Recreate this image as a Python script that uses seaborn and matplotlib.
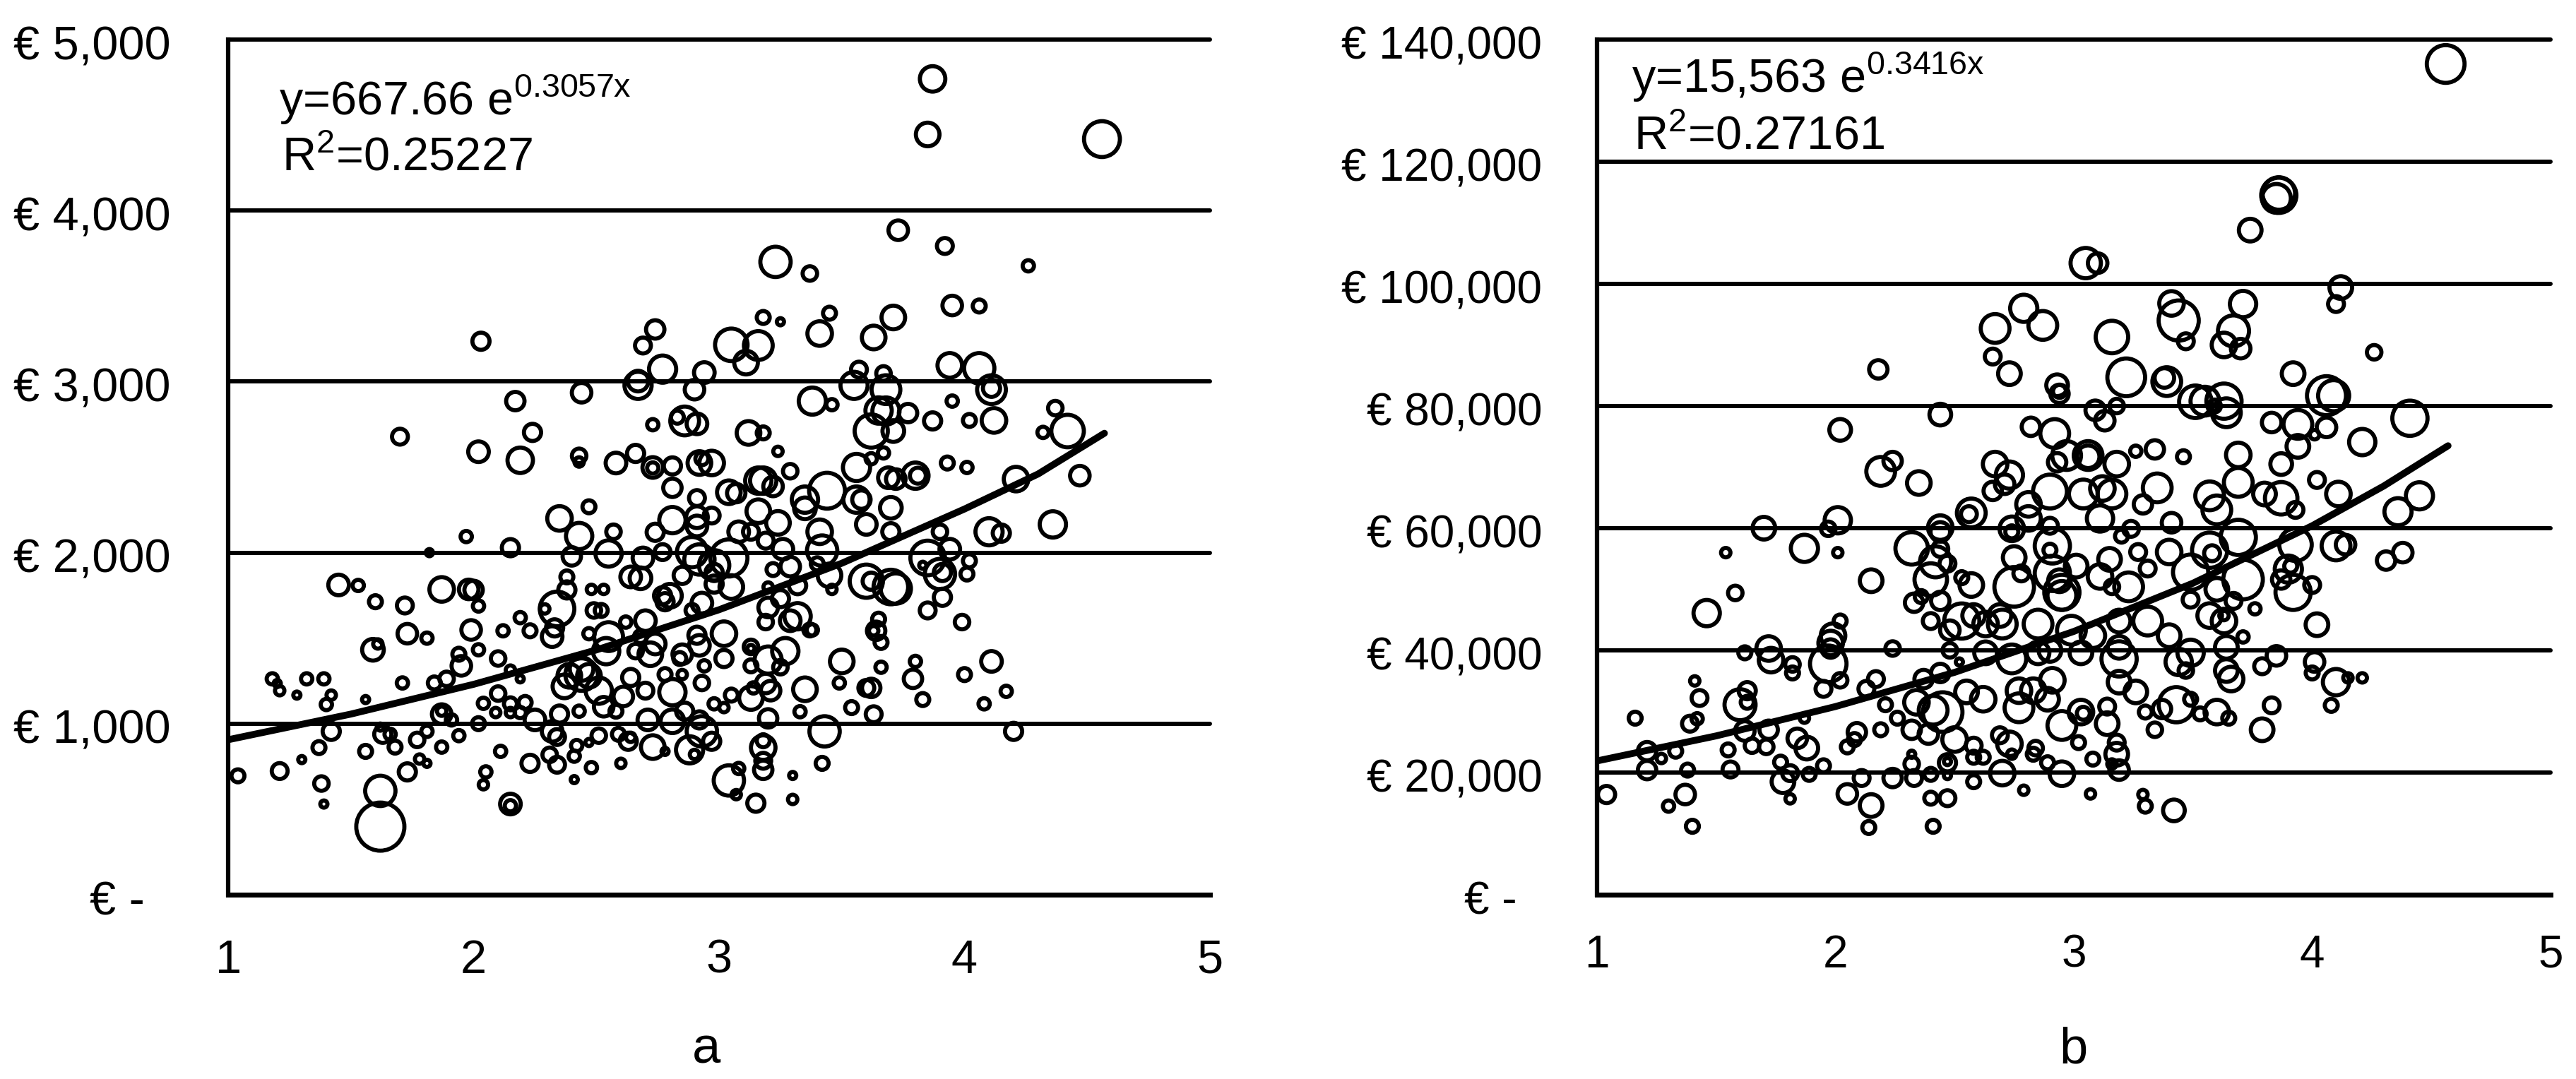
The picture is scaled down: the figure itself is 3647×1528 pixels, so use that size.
import numpy as np
import pandas as pd
import matplotlib
matplotlib.use("Agg")
import matplotlib.pyplot as plt
from matplotlib.transforms import ScaledTranslation
import seaborn as sns

# panel a
x_a = [3.87,3.85,4.56,3.73,3.92,4.26,3.23,3.37,3.95,4.06,
       3.45,3.18,3.25,2.74,2.03,2.69,3.71,3.41,3.63,3.05,
       3.16,3.11,2.77,2.94,2.67,2.67,2.90,3.94,4.06,3.57,
       3.55,3.67,3.68,4.11,4.11,3.38,3.46,3.95,4.37,2.44,
       2.17,2.86,2.83,2.91,2.73,3.65,3.68,3.77,3.87,4.02,
       4.12,4.42,4.32,3.12,3.18,3.62,3.71,1.70,2.24,2.02,
       2.19,2.43,2.43,2.66,2.58,2.73,2.73,2.81,2.92,2.97,
       2.93,2.81,3.24,3.29,3.56,3.44,3.62,3.67,3.69,3.72,
       3.80,3.81,3.93,4.01,4.21,4.47,3.16,3.18,3.22,3.04,
       3.07,2.91,3.35,3.35,3.56,3.58,3.70,2.35,2.47,3.16,
       3.60,2.81,2.91,2.97,2.91,2.74,3.24,3.08,3.13,4.10,
       4.15,4.36,1.97,2.43,2.57,2.15,1.82,2.40,2.55,2.69,
       2.77,2.89,3.04,3.19,3.26,3.41,3.42,3.70,3.90,3.85,
       3.94,4.02,4.01,3.29,3.22,3.40,2.92,2.98,2.98,2.64,
       2.68,2.38,3.45,3.60,3.72,3.70,3.62,3.90,3.91,3.83,
       1.45,1.53,1.60,1.72,1.87,1.98,2.00,2.02,1.73,1.81,
       1.59,1.61,1.99,1.94,2.02,1.95,2.10,2.19,2.12,2.23,
       2.34,2.29,2.38,2.48,2.53,2.49,2.52,2.32,2.33,2.47,
       2.55,2.54,2.62,2.70,2.68,2.74,2.66,2.72,2.77,2.78,
       2.80,2.85,2.98,3.05,2.93,2.89,3.20,3.29,3.32,3.19,
       3.20,3.25,3.32,3.85,3.91,3.99,3.46,3.37,3.38,3.65,
       3.64,3.66,3.63,3.02,2.91,2.92,3.13,3.13,3.27,3.20,
       3.02,2.94,2.85,2.84,3.13,3.25,3.50,3.66,3.80,3.79,
       4.11,4.00,4.17,4.08,3.83,3.62,3.60,3.49,3.35,3.33,
       3.20,3.54,3.63,3.19,3.21,3.13,3.05,3.14,2.93,2.78,
       2.85,2.81,2.64,2.70,2.61,2.98,3.02,2.44,2.39,2.47,
       2.44,2.37,2.51,2.15,2.19,1.71,1.84,1.89,1.18,1.20,
       1.21,1.28,1.32,1.39,1.42,1.40,1.56,2.04,2.10,2.09,
       2.15,2.15,2.21,2.19,1.87,1.87,1.91,2.02,2.25,2.35,
       2.43,2.53,2.58,2.71,2.81,2.86,2.92,1.42,1.63,1.66,
       1.62,1.81,1.77,1.68,1.94,1.87,1.37,1.56,1.30,1.21,
       1.04,1.38,1.39,1.62,1.62,1.73,1.78,1.81,2.11,2.05,
       2.04,2.15,2.15,2.23,2.31,2.34,2.41,2.48,2.41,2.60,
       2.32,2.34,2.42,2.51,2.47,2.59,2.63,2.64,2.73,2.78,
       2.88,2.90,2.93,2.97,3.04,3.08,3.07,3.18,3.18,3.18,
       3.18,3.43,3.42,3.30,3.30,3.15,4.20]
y_a = [4770,4445,4418,3885,3793,3677,3700,3632,3445,3442,
       3400,3375,3350,3305,3236,3211,3375,3281,3258,3215,
       3211,3111,3073,3053,3003,2978,2953,3095,3078,3070,
       2978,3048,2953,2961,2953,2886,2865,2886,2845,2935,
       2886,2770,2792,2753,2748,2831,2828,2816,2770,2773,
       2773,2711,2703,2700,2700,2711,2711,2678,2703,2590,
       2540,2566,2530,2580,2524,2498,2495,2507,2524,2524,
       2549,2379,2592,2476,2498,2362,2549,2583,2438,2430,
       2450,2450,2524,2498,2430,2450,2421,2421,2387,2353,
       2348,2319,2310,2259,2310,2310,2262,2200,2268,2242,
       2165,2190,2207,2217,2156,2119,2174,2122,2122,2122,
       2114,2165,2094,2097,2122,2029,2000,1978,1995,1969,
       2003,2003,1969,2070,2020,2122,2012,2122,2122,1969,
       2020,1952,1875,1918,1901,1935,1960,1926,1884,1858,
       1850,1858,1867,1833,1790,1799,1833,1875,1884,1926,
       1811,1808,1713,1691,1785,1785,1782,1688,1526,1500,
       1432,1466,1548,1406,1432,1338,1381,1620,1543,1543,
       1671,1671,1782,1785,1785,1662,1662,1509,1560,1526,
       1509,1424,1594,1602,1509,1466,1424,1406,1748,1713,
       1748,1867,1816,1799,1705,1662,1679,1602,1628,1594,
       1799,1731,1807,1662,1739,1594,1785,1548,1548,1611,
       1543,1475,1543,1526,1517,1458,1449,1440,1424,1372,
       1381,1338,1406,1381,1338,1330,1364,1330,1364,1262,
       1364,1287,1189,1116,1141,1209,1209,1238,1201,1070,
       1031,1094,1055,1235,1193,1150,1167,1209,1238,1287,
       1287,1184,1270,1193,1159,1116,1094,1287,1280,1280,
       1320,1218,1193,1313,1262,1238,1238,1262,1262,1235,
       1193,1167,1262,1262,1167,1112,1141,1119,1176,1065,
       1116,1065,1124,1065,1056,1073,1022,1000,1022,1056,
       1073,1099,1073,1022,1014,1073,1022,955,938,938,
       980,955,905,863,930,863,860,838,790,723,
       695,650,530,607,398,718,793,768,838,718,
       643,530,520,768,818,760,810,743,673,768,
       955,922,872,930,890,938,897,920,863,838,
       847,820,955,897,668,738,585,730,783,860,
       900,955,768,697,557,535,955]
bubble_a = [16,14,30,10,7,4,22,6,10,5,
            5,5,2,9,8,7,14,15,14,25,
            20,14,18,11,11,18,10,15,22,7,
            18,6,20,8,20,18,4,4,6,10,
            9,20,5,11,4,17,18,9,8,5,
            15,25,4,14,5,26,12,7,8,11,
            16,6,3,8,11,11,4,8,14,15,
            5,9,3,6,18,30,4,4,11,10,
            17,7,5,4,15,10,17,17,10,14,
            9,7,17,12,17,9,12,15,5,14,
            11,17,12,7,11,8,14,11,7,18,
            8,17,4,17,6,8,2,9,17,11,
            7,22,32,7,11,15,22,8,6,28,
            11,5,5,10,5,5,22,22,8,11,
            12,5,14,26,22,28,8,22,8,2,
            11,4,5,7,15,10,9,4,10,4,
            12,3,10,5,4,10,6,4,4,5,
            28,3,8,3,3,6,5,11,8,4,
            20,17,4,11,5,11,6,14,8,8,
            14,8,8,14,11,5,10,11,17,6,
            3,8,8,7,8,6,3,5,4,5,
            9,5,3,15,8,11,6,2,17,18,
            8,4,10,5,5,6,14,4,4,9,
            11,5,4,4,5,9,7,4,14,4,
            9,5,7,10,10,14,5,4,6,5,
            3,17,8,7,10,4,3,25,14,14,
            14,14,17,3,2,4,5,6,4,2,
            3,2,4,4,3,4,2,4,6,3,
            5,3,5,4,10,3,4,5,11,8,
            4,10,5,11,14,8,8,8,8,4,
            2,4,6,5,4,4,5,5,2,7,
            5,6,2,22,52,8,3,2,4,4,
            3,11,4,8,6,7,4,4,2,3,
            11,7,4,6,2,5,8,3,14,2,
            18,3,22,8,22,4,3,9,7,15,
            5,22,5,2,3,8,8]
trend_x_a = [1.0, 1.5, 2.0, 2.5, 3.0, 3.5, 4.0, 4.3, 4.57]
trend_y_a = [906, 1056, 1230, 1431, 1666, 1938, 2255, 2460, 2698]
yticks_a = [0, 1000, 2000, 3000, 4000, 5000]
ylabels_a = ["€ -\u00a0\u00a0", "€ 1,000", "€ 2,000", "€ 3,000", "€ 4,000", "€ 5,000"]

# panel b
x_b = [4.56,3.86,3.86,3.85,3.74,3.05,3.10,4.12,4.10,2.79,
       2.67,2.87,3.41,3.44,3.47,3.71,3.67,3.63,3.70,4.26,
       3.16,2.66,2.73,2.18,3.22,3.38,3.39,3.92,4.06,4.09,
       2.93,2.94,2.94,3.51,3.55,3.63,3.64,3.59,3.09,3.18,
       3.13,2.44,2.02,2.82,2.92,3.83,3.94,4.06,4.41,4.21,
       3.94,4.01,3.26,3.34,3.46,3.69,3.06,2.97,3.06,2.93,
       3.18,3.87,4.02,2.67,2.19,2.24,2.35,2.73,2.71,2.66,
       2.90,3.04,3.16,3.12,3.35,3.29,2.81,4.11,4.45,4.36,
       3.57,3.69,3.80,3.87,3.93,3.60,2.57,2.56,2.44,2.44,
       2.01,1.97,1.70,3.11,3.41,3.24,2.81,2.74,2.74,2.90,
       1.87,2.01,1.54,2.32,2.44,2.42,2.47,2.91,2.90,2.75,
       3.20,3.27,3.40,3.57,3.58,3.69,3.93,4.10,4.14,4.38,
       4.31,3.15,3.31,3.01,3.90,3.91,3.87,3.92,4.00,2.15,
       1.58,1.46,2.40,2.53,2.57,2.33,2.44,2.36,2.75,2.78,
       2.91,2.95,2.94,2.95,3.11,3.23,3.16,3.49,3.49,3.60,
       3.71,3.67,3.76,3.57,3.63,3.63,4.02,3.71,2.02,1.99,
       1.98,1.98,1.97,2.02,1.95,2.40,2.48,2.53,2.58,2.63,
       2.70,2.69,2.85,2.99,3.08,3.19,3.31,3.40,2.24,1.62,
       1.72,1.73,1.82,1.82,2.48,2.52,2.63,2.74,2.85,2.90,
       3.03,3.19,3.19,3.49,3.44,3.47,3.64,3.64,3.66,3.85,
       3.79,4.01,4.00,4.10,4.15,4.21,4.08,3.83,3.79,1.41,
       1.43,1.16,1.39,1.42,1.60,1.63,1.63,2.17,2.13,2.21,
       2.26,2.37,2.44,2.55,2.62,2.34,2.45,2.41,2.77,2.91,
       2.83,2.89,2.77,3.03,3.04,3.14,3.19,3.26,3.43,3.37,
       3.30,3.49,3.53,3.60,3.65,3.34,3.14,2.95,3.02,1.87,
       1.72,1.62,1.84,1.88,1.65,1.71,1.55,1.33,1.21,1.27,
       2.19,2.09,2.08,2.05,2.32,2.39,2.50,2.58,2.73,2.84,
       2.69,1.21,1.38,1.56,1.77,1.81,1.95,1.89,1.78,2.32,
       2.32,2.47,2.47,2.58,2.62,2.74,2.83,2.89,2.95,2.70,
       2.11,2.24,2.33,2.40,2.47,2.58,3.08,3.18,3.19,3.16,
       3.18,1.04,1.37,1.30,1.81,2.05,2.40,2.47,2.79,3.07,
       3.29,3.30,3.42,2.15,1.40,2.14,2.41]
y_b = [136000,114500,114800,114000,108800,103400,103400,99400,96700,96000,
       92700,93200,96800,94000,90600,96700,92300,90000,89400,88800,
       91300,88100,85300,86000,84700,84600,84000,85300,81700,81700,
       83400,82400,82000,80700,80800,80800,78900,80000,79300,80000,
       77600,78600,76100,76600,75500,77300,77000,76500,78000,74100,
       73400,75300,72600,72900,71700,72000,71900,71900,71700,70800,
       70500,70500,67900,70500,69300,71000,67400,68700,67200,66100,
       66000,65600,65600,66500,66600,63900,63900,65600,65300,62700,
       65300,67500,65600,64900,63000,63000,62500,62300,60100,59400,
       61300,59900,60000,61600,60900,59900,61600,59900,59400,60400,
       56700,56000,56000,56700,56600,54500,54200,57100,56400,55200,
       58700,56100,56100,56400,55900,58500,57300,57100,57300,56000,
       54700,54900,53400,53800,53300,53800,51600,49500,50700,51400,
       49400,46100,51600,51900,50700,47800,48100,48800,50400,52600,
       52600,49500,51400,49000,52100,50400,50400,48300,52800,50000,
       51600,48100,46800,45700,44800,45700,44200,42200,44800,42400,
       41200,40300,37800,35100,33700,44800,43300,44800,45700,44300,
       44300,45700,44300,43300,42400,44800,44800,42400,40300,39600,
       40300,38400,37700,36300,40000,38100,39600,38600,39600,40000,
       39600,38600,40500,39600,38100,36700,40500,36700,35300,39100,
       37400,38100,36300,34800,35500,35500,31000,31000,27000,35000,
       32200,28900,28000,28800,31100,33400,31500,35300,33700,31100,
       28900,35300,36300,33200,32000,31500,29900,30200,33400,35100,
       33400,32000,30600,29900,29700,30800,34800,33200,31100,30400,
       29900,32000,29600,29900,28900,27000,28000,27700,24900,28900,
       27000,26800,25600,24000,24400,24200,23700,23500,23500,22300,
       27000,26600,25400,24200,27000,26300,25400,24400,24700,24000,
       26100,20400,20400,20500,21700,19900,21100,19700,18500,23000,
       21400,21600,21800,22500,22500,23000,23000,21600,19800,19900,
       19100,19100,19100,19700,19500,18500,22200,23000,20400,21400,
       24900,16400,16400,14500,15700,16500,15800,15800,17100,16500,
       16400,14500,13800,14600,11200,11000,11200]
bubble_b = [33,29,25,20,13,22,10,13,7,18,
            20,20,15,37,7,17,23,15,10,6,
            25,7,13,9,33,10,20,13,35,23,
            12,5,9,25,20,29,20,5,10,6,
            10,12,12,9,20,10,20,10,29,17,
            13,3,4,9,5,15,20,20,13,9,
            15,12,7,15,20,9,14,18,10,9,
            27,20,20,15,20,9,15,15,18,18,
            20,20,13,25,7,20,20,7,15,10,
            17,6,13,17,10,7,15,15,5,7,
            18,3,3,25,7,23,7,29,5,13,
            5,7,15,29,7,29,25,20,10,10,
            9,13,7,13,18,5,9,29,7,13,
            6,17,25,5,14,9,9,5,36,7,
            29,29,13,20,15,20,6,7,29,13,
            36,7,4,15,15,3,13,4,5,15,
            15,9,31,6,7,7,10,29,13,15,
            20,13,20,20,15,13,20,13,6,5,
            15,15,6,5,6,2,13,20,13,13,
            13,29,13,17,17,6,13,13,15,10,
            7,10,5,17,3,3,5,7,13,3,
            7,5,7,4,23,8,5,7,7,5,
            5,9,9,13,15,15,36,20,15,15,
            15,13,20,15,5,7,13,13,29,9,
            5,5,5,15,5,6,13,20,5,3,
            9,10,10,13,6,6,5,5,9,3,
            5,9,5,5,9,10,15,7,15,6,
            7,9,5,7,5,7,5,5,13,2,
            6,8,2,5,5,3,5,5,15,15,
            7,9,7,5,2,5,5,13,10,3,
            7,8,10,4,3,10,5,7,3,3,
            3,5,12,13,5,5,5]
trend_x_b = [1.0, 1.5, 2.0, 2.5, 3.0, 3.5, 4.0, 4.3, 4.57]
trend_y_b = [21900, 26000, 30800, 36400, 43100, 51000, 60400, 66900, 73500]
yticks_b = [0, 20000, 40000, 60000, 80000, 100000, 120000, 140000]
ylabels_b = ["€ -\u00a0\u00a0", "€ 20,000", "€ 40,000", "€ 60,000", "€ 80,000",
             "€ 100,000", "€ 120,000", "€ 140,000"]
xticks = [1, 2, 3, 4, 5]

W, H = 3648, 1528
sns.set_theme(style="white")
plt.rcParams["font.family"] = ["Liberation Sans", "DejaVu Sans"]
plt.rcParams["mathtext.default"] = "regular"

fig = plt.figure(figsize=(W / 100, H / 100), dpi=100, facecolor="white")


def draw_panel(box, xs, ys, bubbles, tx, ty, yticks, ylabels, ymax, ypad, xpad, xlen, fs):
    left, right, top, bottom = box
    ax = fig.add_axes([left / W, 1 - bottom / H, (right - left) / W, (bottom - top) / H])
    df = pd.DataFrame({"x": xs, "y": ys, "bubble": bubbles})
    # marker area per bubble value, the stroke adds about 6 px on the outside
    areas = {v: (max(9, 10 * np.sqrt(v) - 4) * 0.72) ** 2 for v in set(bubbles)}
    sns.scatterplot(data=df, x="x", y="y", size="bubble", sizes=areas, legend=False,
                    edgecolor="black", linewidth=4.2, ax=ax, zorder=3)
    ax.collections[-1].set_facecolor("none")
    sns.lineplot(x=tx, y=ty, color="black", linewidth=7, ax=ax, zorder=4)

    ax.set_xlim(1, 5)
    ax.set_ylim(0, ymax)
    ax.set_xlabel("")
    ax.set_ylabel("")
    ax.set_xticks(xticks)
    ax.set_yticks(yticks)
    ax.set_yticklabels(ylabels)
    ax.grid(False)
    for val in yticks[1:]:
        ax.axhline(val, color="black", linewidth=4.3, zorder=2, clip_on=False)
    ax.tick_params(axis="y", length=16, width=4.3, color="black", pad=ypad, labelsize=fs, labelcolor="black")
    ax.tick_params(axis="x", length=xlen, width=4.3, color="black", pad=xpad, labelsize=fs, labelcolor="black")
    for name in ["top", "right"]:
        ax.spines[name].set_visible(False)
    ax.spines["left"].set_linewidth(4.5)
    ax.spines["bottom"].set_linewidth(5)
    ax.spines["left"].set_color("black")
    ax.spines["bottom"].set_color("black")
    # digits sit a little lower on the gridline than the text box centre
    shift = ScaledTranslation(0, -0.04, fig.dpi_scale_trans)
    for lbl in ax.get_yticklabels():
        lbl.set_transform(lbl.get_transform() + shift)
    return ax


ax_a = draw_panel((323, 1713, 56, 1267), x_a, y_a, bubble_a, trend_x_a, trend_y_a,
                  yticks_a, ylabels_a, 5000, 42.5, 30, 15, 48)
ax_b = draw_panel((2261, 3611, 56, 1267), x_b, y_b, bubble_b, trend_x_b, trend_y_b,
                  yticks_b, ylabels_b, 140000, 40, 27, 13, 46)

# fitted equations
fig.text(395 / W, 1 - 163 / H, "y=667.66 e$^{0.3057x}$", fontsize=48, color="black", va="baseline")
fig.text(399 / W, 1 - 242 / H, "R$^{2}$=0.25227", fontsize=48, color="black", va="baseline")
fig.text(2310 / W, 1 - 131 / H, "y=15,563 e$^{0.3416x}$", fontsize=48, color="black", va="baseline")
fig.text(2313 / W, 1 - 212 / H, "R$^{2}$=0.27161", fontsize=48, color="black", va="baseline")

# panel letters
fig.text(1000 / W, 1 - 1506 / H, "a", fontsize=52, color="black", ha="center", va="baseline")
fig.text(2935 / W, 1 - 1506 / H, "b", fontsize=52, color="black", ha="center", va="baseline")

fig.savefig("out.png", dpi=100, facecolor="white")
